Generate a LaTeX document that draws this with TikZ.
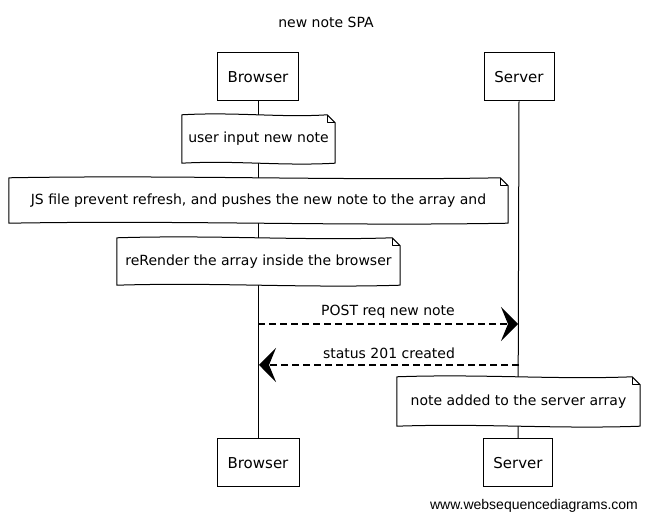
\documentclass[tikz,border=0pt]{standalone}
\usepackage{fontspec}
\setmainfont{DejaVu Sans}
\newfontfamily\wsdfont{Liberation Sans}
\usetikzlibrary{calc,arrows.meta}
\pgfdeclarelayer{lifelayer}
\pgfdeclarelayer{notelayer}
\pgfsetlayers{lifelayer,notelayer,main}
\tikzset{
  sk/.style={line width=1pt, draw=black, line join=round},
  actor/.style={draw=black, line width=1pt, fill=white, inner sep=0pt,
    minimum height=48pt, font=\fontsize{15}{18}\selectfont},
  notetext/.style={inner sep=0pt, font=\fontsize{14}{17}\selectfont},
  msglabel/.style={inner sep=0pt, font=\fontsize{14}{17}\selectfont},
  lifeln/.style={line width=1pt, draw=black},
  msg/.style={line width=1.2pt, dash pattern=on 7pt off 4pt,
    -{Stealth[length=17pt,width=34pt,inset=7pt]}},
}
\newcommand\sketchnote[1]{%
  \begin{pgfonlayer}{notelayer}
  \filldraw[sk, fill=white]
    (#1.north west)
      .. controls ($(#1.north west)!0.35!(#1.north east)+(0,-3)$)
      and ($(#1.north west)!0.65!(#1.north east)+(0,3)$) ..
    ($(#1.north east)+(-8,0)$) -- ($(#1.north east)+(0,8)$) -- (#1.south east)
      .. controls ($(#1.south east)!0.35!(#1.south west)+(0,3)$)
      and ($(#1.south east)!0.65!(#1.south west)+(0,-3)$) ..
    (#1.south west) -- cycle;
  \draw[sk, line width=0.7pt] ($(#1.north east)+(-8,0)$) -- ($(#1.north east)+(-8,8)$)
    -- ($(#1.north east)+(0,8)$);
  \end{pgfonlayer}}
\begin{document}
\begin{tikzpicture}[x=1pt,y=-1pt]
\useasboundingbox (0,0) rectangle (649,521);
% title
\node[msglabel] (title) at (326,22) {new note SPA};
% participants
\node[actor, minimum width=81pt] (btop) at (258,77) {Browser};
\node[actor, minimum width=70pt] (stop) at (519,77) {Server};
\node[actor, minimum width=82pt] (bbot) at (258,463) {Browser};
\node[actor, minimum width=69pt] (sbot) at (518,463) {Server};
% lifelines
\begin{pgfonlayer}{lifelayer}
\draw[lifeln] (btop.south) -- (bbot.north);
\draw[lifeln] (stop.south) -- (sbot.north);
\end{pgfonlayer}
% notes
\node[notetext, minimum width=153pt, minimum height=48pt] (n1) at (258.5,139) {user input new note};
\sketchnote{n1}
\node[notetext, minimum width=499pt, minimum height=45pt] (n2) at (258.5,200.5) {JS file prevent refresh, and pushes the new note to the array and};
\sketchnote{n2}
\node[notetext, minimum width=283pt, minimum height=47pt] (n3) at (258.5,261.5) {reRender the array inside the browser};
\sketchnote{n3}
\node[notetext, minimum width=243pt, minimum height=49pt] (n4) at (518.5,401.5) {note added to the server array};
\sketchnote{n4}
% messages
\coordinate (b1) at (258,324);
\coordinate (s1) at (518,324);
\coordinate (s2) at (519,365);
\coordinate (b2) at (259,365);
\draw[msg] (b1) -- (s1) node[msglabel, midway, above=5pt] (m1) {POST req new note};
\draw[msg] (s2) -- (b2) node[msglabel, midway, above=6pt] (m2) {status 201 created};
% watermark
\node[inner sep=0pt, font=\wsdfont\fontsize{14}{16}\selectfont] (wm) at (534,506) {www.websequencediagrams.com};
\end{tikzpicture}
\end{document}
